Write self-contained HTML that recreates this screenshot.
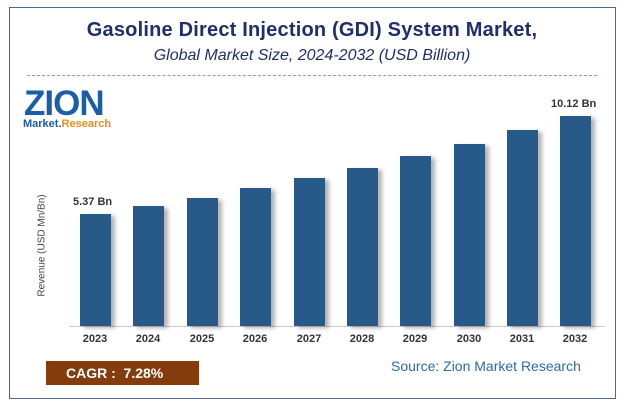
<!DOCTYPE html>
<html><head><meta charset="utf-8"><style>
body{margin:0;width:624px;height:408px;background:#fff;position:relative;overflow:hidden;font-family:"Liberation Sans",sans-serif}
.frame{position:absolute;left:9px;top:7px;width:605px;height:390px;border:1px solid #4a6b8f}
.t{position:absolute;left:0;width:624px;text-align:center;color:#1f2f6b}
.bar{position:absolute;width:31px;background:#275a88;box-shadow:4px 2px 4px rgba(0,0,0,.3)}
.yr{position:absolute;top:333px;width:40px;text-align:center;font-size:11px;font-weight:bold;color:#333}
</style></head><body>
<div class="frame"></div>
<div class="t" style="top:19px;font-size:20px;font-weight:bold;letter-spacing:0.2px">Gasoline Direct Injection (GDI) System Market,</div>
<div class="t" style="top:47px;font-size:16px;font-style:italic">Global Market Size, 2024-2032 (USD Billion)</div>
<div style="position:absolute;left:27px;top:75px;width:570px;border-top:1px dashed #7b9fd9"></div>
<div style="position:absolute;left:24px;top:84px;font-size:35px;font-weight:bold;color:#1a5ea8;letter-spacing:-1px;font-family:'Liberation Sans',sans-serif">ZION</div>
<div style="position:absolute;left:23px;top:118px;font-size:11px;font-weight:bold;color:#1a5ea8">Market.<span style="color:#f08a1c">Research</span></div>
<div style="position:absolute;left:-18px;top:240px;transform:rotate(-90deg);font-size:10px;color:#444;width:120px;text-align:center">Revenue (USD Mn/Bn)</div>
<div style="position:absolute;left:69px;top:326px;width:536px;border-top:1px solid #ccc"></div>
<div class="bar" style="left:80px;top:214px;height:112px"></div>
<div class="bar" style="left:133px;top:206px;height:120px"></div>
<div class="bar" style="left:187px;top:198px;height:128px"></div>
<div class="bar" style="left:240px;top:188px;height:138px"></div>
<div class="bar" style="left:294px;top:178px;height:148px"></div>
<div class="bar" style="left:347px;top:168px;height:158px"></div>
<div class="bar" style="left:400px;top:156px;height:170px"></div>
<div class="bar" style="left:454px;top:144px;height:182px"></div>
<div class="bar" style="left:507px;top:130px;height:196px"></div>
<div class="bar" style="left:560px;top:116px;height:210px"></div>
<div style="position:absolute;left:73px;top:196px;font-size:11px;font-weight:bold;color:#333">5.37 Bn</div>
<div style="position:absolute;left:551px;top:98px;font-size:11px;font-weight:bold;color:#333">10.12 Bn</div>
<div class="yr" style="left:75px">2023</div><div class="yr" style="left:128px">2024</div><div class="yr" style="left:182px">2025</div><div class="yr" style="left:235px">2026</div><div class="yr" style="left:289px">2027</div><div class="yr" style="left:342px">2028</div><div class="yr" style="left:395px">2029</div><div class="yr" style="left:449px">2030</div><div class="yr" style="left:502px">2031</div><div class="yr" style="left:555px">2032</div>
<div style="position:absolute;left:46px;top:361px;width:153px;height:24px;background:#843c0c;color:#fff;font-size:14px;font-weight:bold;line-height:24px;box-sizing:border-box;padding-left:20px">CAGR :&nbsp; 7.28%</div>
<div style="position:absolute;left:391px;top:358px;font-size:14px;color:#2e6aa8">Source: Zion Market Research</div>
</body></html>
